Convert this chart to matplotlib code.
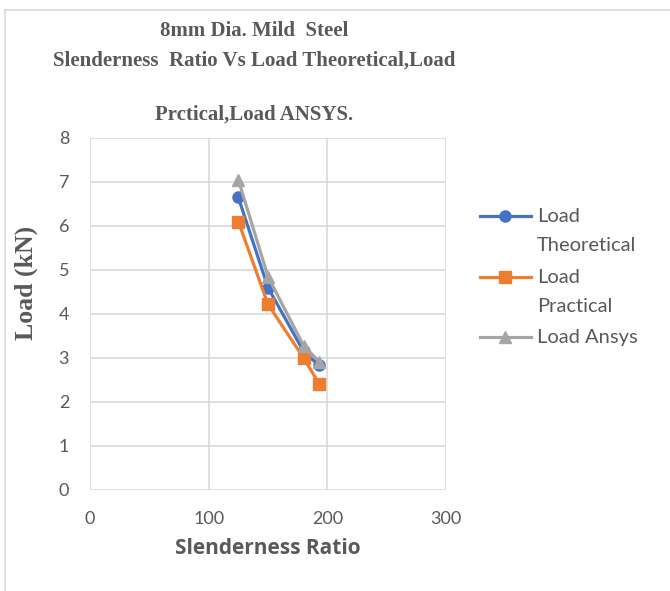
import matplotlib
matplotlib.use("Agg")
import matplotlib.pyplot as plt
from matplotlib.lines import Line2D

slenderness = [125, 150, 180, 193]
load_theoretical = [6.65, 4.6, 3.15, 2.83]
load_practical = [6.1, 4.22, 3.0, 2.42]
load_ansys = [7.05, 4.85, 3.28, 2.92]
series_names = ["Load\nTheoretical", "Load\nPractical", "Load Ansys"]

GRAY_TXT = "#595959"
GRID = "#d9d9d9"
W, H = 670, 591

fig = plt.figure(figsize=(6.7, 5.91), dpi=100)
ax = fig.add_axes([90 / W, 1 - 490 / H, 356 / W, 352 / H])

# chart frame (left + top edges visible)
fig.add_artist(Line2D([5 / W, 5 / W], [0, 1 - 10 / H], transform=fig.transFigure, color=GRID, lw=1.2))
fig.add_artist(Line2D([5 / W, 1], [1 - 10 / H, 1 - 10 / H], transform=fig.transFigure, color=GRID, lw=1.2))

series = [
    (load_theoretical, "#4472C4", "o", 3),
    (load_practical, "#ED7D31", "s", 3),
    (load_ansys, "#A5A5A5", "^", 4),
]
for vals, col, mk, z in series:
    ax.plot(slenderness, vals, color=col, lw=2.3, marker=mk, ms=8, zorder=z)

ax.set_xlim(0, 300)
ax.set_ylim(0, 8)
ax.set_xticks([0, 100, 200, 300])
ax.set_yticks(range(0, 9))
ax.grid(True, color=GRID, lw=1.2)
ax.set_axisbelow(True)
for s in ax.spines.values():
    s.set_visible(False)
ax.tick_params(length=0, labelsize=13, labelcolor=GRAY_TXT)
ax.tick_params(axis="y", pad=15)
ax.tick_params(axis="x", pad=15)
for lab in ax.get_xticklabels() + ax.get_yticklabels():
    lab.set_family("Lato")

ax.set_xlabel("Slenderness Ratio", fontsize=15, fontweight="bold", color=GRAY_TXT,
              family="Open Sans", labelpad=8)
ax.set_ylabel("Load (kN)", fontsize=18.5, fontweight="bold", color=GRAY_TXT,
              family="Liberation Serif")
ax.yaxis.set_label_coords(-(90 - 38) / 356, (490 - 283) / 352)

title_kw = dict(ha="center", va="center", fontsize=15, fontweight="bold",
                color=GRAY_TXT, family="Liberation Serif")
fig.text(254 / W, 1 - 31 / H, "8mm Dia. Mild  Steel", **title_kw)
fig.text(254 / W, 1 - 61 / H, "Slenderness  Ratio Vs Load Theoretical,Load", **title_kw)
fig.text(254 / W, 1 - 115 / H, "Prctical,Load ANSYS.", **title_kw)

# legend drawn by hand so the marker sits on the first text line, like Excel
leg_y = [216, 277, 337]
for (vals, col, mk, z), name, yy in zip(series, series_names, leg_y):
    fy = 1 - yy / H
    fig.add_artist(Line2D([480 / W, 531 / W], [fy, fy], transform=fig.transFigure,
                          color=col, lw=2.3))
    fig.add_artist(Line2D([505 / W], [fy], transform=fig.transFigure, color=col,
                          marker=mk, ms=8, lw=0))
    fig.text(537 / W, 1 - (yy - 8) / H, name, ha="left", va="top", fontsize=14.5,
             color=GRAY_TXT, family="Lato", linespacing=1.85)

fig.savefig("out.png", dpi=100)
